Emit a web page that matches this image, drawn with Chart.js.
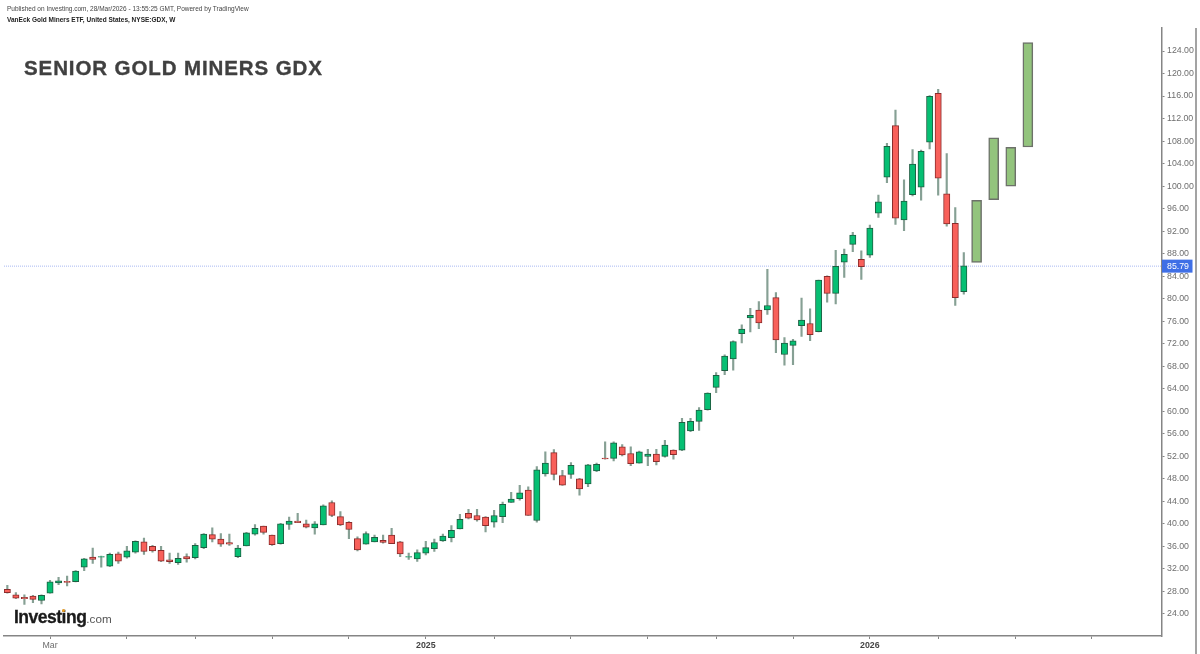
<!DOCTYPE html>
<html><head><meta charset="utf-8">
<script src="https://cdn.jsdelivr.net/npm/chart.js@4"></script>
<style>
html,body{margin:0;padding:0;background:#fff;width:1200px;height:654px;overflow:hidden}
canvas{position:absolute;left:0;top:0}
.t{position:absolute;white-space:nowrap;font-family:"Liberation Sans",Arial,sans-serif}
</style></head><body>
<canvas id="c" width="1200" height="654"></canvas>
<div class="t" style="left:7px;top:4.5px;font-size:6.5px;line-height:8px;color:#444">Published on Investing.com, 28/Mar/2026 - 13:55:25 GMT, Powered by TradingView</div>
<div class="t" style="left:7px;top:15.5px;font-size:6.5px;line-height:8px;font-weight:bold;color:#222">VanEck Gold Miners ETF, United States, NYSE:GDX, W</div>
<div class="t" style="left:24px;top:55px;font-size:20.5px;line-height:26px;font-weight:bold;color:#404040;letter-spacing:.9px;-webkit-text-stroke:.35px #404040">SENIOR GOLD MINERS GDX</div>
<div class="t" style="left:14px;top:606px;font-size:17.5px;line-height:22px;font-weight:bold;color:#1a1a1a;letter-spacing:-.5px;-webkit-text-stroke:.3px #1a1a1a">Investing<span style="font-weight:normal;font-size:11.7px;color:#555;letter-spacing:0;-webkit-text-stroke:0">.com</span></div>
<div style="position:absolute;left:62px;top:609px;width:3px;height:3px;border-radius:2px;background:#f0a020"></div>
<script>
const opens  = [28.4,27.4,26.96,27.2,26.4,27.7,29.5,29.8,29.75,32.3,34.1,34.1,32.5,34.7,34.1,35,36.8,36,35.3,33.6,33.1,34.2,34,35.8,38.1,37.3,36.7,34.2,36.1,38.2,39.6,38,36.5,39.9,40.5,
 40,39.3,39.8,43.8,41.3,40.3,37.4,36.4,36.8,37.1,38,36.8,34.1,33.8,34.8,35.6,37,37.55,39.1,41.9,41.5,41.2,40.3,41.3,43.8,44.5,46,40.6,48.9,52.65,48.6,48.8,48,47.1,49.4,
 51.7,51.65,53.7,52.5,50.8,52,52.4,52,53.1,53.1,56.5,58.2,60.3,64.25,67.2,69.3,73.8,76.6,78,78,80.2,70.1,71.7,75.2,75.6,74.15,84,80.95,86.5,89.65,87,87.75,95.2,101.6,110.75,94,98.5,99.8,107.8,116.5,98.65,93.4,81.25];
const highs  = [29.1,27.8,27.4,27.3,27.4,30,30.5,30.75,31.7,33.9,35.7,34.3,34.8,35,36,37,37.5,36.2,36,34.8,34.8,34.7,36.5,38.3,39.3,38.3,38.2,36.2,38.5,39.9,39.6,38,40.1,41.2,41.9,
 40.7,40.4,43.4,44.1,42.2,40.4,37.7,38.6,38,38,39.2,36.9,34.8,35.4,36.9,37.3,38.2,39.7,41.7,42.6,42.6,41.3,42.4,43.9,45.6,46.85,46.6,50.2,52.8,53.2,49.5,50.9,48.1,50.6,50.8,
 54.6,54.6,54.1,53.7,52.95,53.25,53.25,54.85,53.15,58.75,58.75,60.65,63.3,66.9,70.05,72.5,75.35,78.3,79.5,85.2,81.1,73.1,72.8,80.1,78.2,83.3,84.05,88.6,88.8,91.8,88.5,93.1,98.4,107.6,113.5,101.1,106.5,106.4,116.1,117.2,105.8,96.2,88.2];
const lows   = [27.7,26.7,25.7,26,25.8,27.7,29.2,29,29.7,31.7,33,32.3,32.4,33,33.9,34.8,34.6,35,33.3,33,32.8,33.2,33.8,35.6,36.8,36,36.2,34,36.1,38,38.2,36.2,36.4,39,40.2,
 39.3,38.2,39.8,41.3,39.7,37.4,35.2,36.4,36.8,36.6,36.5,34.2,33.7,33.35,34.5,35.1,36.9,36.8,39.1,40.9,40.5,38.6,39.4,40.2,43.8,44.2,41.5,40.3,48.5,47.8,46.85,48.1,45.1,46.6,49.3,
 51.5,51.2,52.1,50.35,50.8,50.35,50.5,51.85,51.5,53,56.4,56.6,60.2,63.3,66.5,67.3,72.15,74.1,74.7,77.2,70.4,68.2,68.3,73.3,72.55,74.1,79.4,79.1,83.8,88.35,83.45,87.35,94.45,100.6,93.2,92.1,98.25,97.5,106.6,98.4,92.9,78.8,80.8];
const closes = [27.8,26.8,26.7,26.6,27.3,29.7,29.9,29.6,31.6,33.8,33.7,34.2,34.6,33.4,35.2,36.9,35.1,35.2,33.4,33.3,33.9,33.8,36.2,38.2,37.3,36.4,36.4,35.7,38.4,39.2,38.5,36.3,40,40.5,40.2,
 39.4,40,43.2,41.5,39.8,39,35.4,38.3,37.6,36.7,36.5,34.65,34.2,34.9,35.8,36.7,37.85,38.85,40.8,41,40.7,39.7,41.5,43.5,44.4,45.5,41.5,49.6,50.8,48.8,46.9,50.4,46.2,50.5,50.6,
 51.55,54.4,52.25,50.7,52.8,52.4,51.05,54,52.3,58.05,58.2,60.2,63.25,66.4,69.8,72.4,74.6,77.05,75.7,78.8,72.7,72.1,72.5,76.2,73.6,83.3,80.95,85.75,87.9,91.3,85.7,92.55,97.2,107.05,94.3,97.35,103.9,106.2,115.95,101.4,93.3,80.2,85.85];
const forecastSlots = [113.5,115.5,117.5,119.5];
const forecastLow   = [86.45,97.6,100,106.95];
const forecastHigh  = [97.5,108.6,106.9,125.5];
const lastPrice = 85.79;
const priceTicks = [24,28,32,36,40,44,48,52,56,60,64,68,72,76,80,84,88,92,96,100,104,108,112,116,120,124];
const timeTickSlots = [5,14,22,31,40,49,57,66,75,83,92,101,109,118,127];
const timeTickLabels = {5:'Mar',49:'2025',101:'2026'};

const UP='#06bf73', UPB='#1d5f42', DN='#f8605a', DNB='#8b2c2c', WICK='#86a094', AX='#858585';
const idx = opens.map((_,i)=>i);
const isUp = i => closes[i] >= opens[i];

const lastPriceTag = {
  id:'lastPriceTag',
  afterDraw(ch){
    const c=ch.ctx, y=ch.scales.y, py=y.getPixelForValue(lastPrice);
    c.save();
    c.fillStyle='#3f6fe6';
    c.fillRect(y.left+0.5,py-6.5,30.5,13);
    c.fillStyle='#fff';
    c.font='8.8px "Liberation Sans", Arial, sans-serif';
    c.textAlign='left'; c.textBaseline='middle';
    c.fillText(lastPrice.toFixed(2), y.left+5.5, py+0.5);
    c.strokeStyle=AX; c.lineWidth=1.5;
    c.beginPath(); c.moveTo(y.right,ch.chartArea.top); c.lineTo(y.right,ch.height); c.stroke();
    c.restore();
  }
};

new Chart(document.getElementById('c'),{
  data:{datasets:[
    {type:'bar',grouped:false,order:1,barThickness:10,borderSkipped:false,borderWidth:1.5,
     backgroundColor:'#93c47d',borderColor:'#6d716a',
     data:forecastSlots.map((x,i)=>({x,y:[forecastLow[i],forecastHigh[i]]}))},
    {type:'bar',grouped:false,order:2,barThickness:6.3,borderSkipped:false,borderWidth:1,
     backgroundColor:idx.map(i=>isUp(i)?UP:DN),borderColor:idx.map(i=>isUp(i)?UPB:DNB),
     data:idx.map(i=>({x:i,y:[opens[i],closes[i]]}))},
    {type:'bar',grouped:false,order:3,barThickness:1.5,borderWidth:0,backgroundColor:WICK,
     data:idx.map(i=>({x:i,y:[lows[i],highs[i]]}))},
    {type:'line',order:4,borderColor:'#a9b9f2',borderWidth:1,borderDash:[1,1],pointRadius:0,
     data:[{x:-0.39,y:lastPrice},{x:135.15,y:lastPrice}]}
  ]},
  options:{
    responsive:false,animation:false,devicePixelRatio:1,
    layout:{padding:{left:4,right:4,top:28,bottom:0}},
    plugins:{legend:{display:false},tooltip:{enabled:false},title:{display:false}},
    scales:{
      x:{type:'linear',min:-0.39,max:135.15,offset:false,
        afterBuildTicks(s){s.ticks=timeTickSlots.map(v=>({value:v}));},
        afterFit(s){s.height=18;},
        grid:{offset:false,drawOnChartArea:false,drawTicks:true,tickLength:3,color:AX},
        border:{color:AX,width:1.5},
        ticks:{autoSkip:false,maxRotation:0,padding:1,
          callback:v=>timeTickLabels[v]||'',
          color:c=>c.tick&&c.tick.value!==5?'#454545':'#6e6e6e',
          font:c=>({family:'"Liberation Sans", Arial, sans-serif',size:8.8,weight:(c.tick&&c.tick.value!==5)?'bold':'normal'})}},
      y:{type:'linear',position:'right',min:20.09,max:128.09,
        afterBuildTicks(s){s.ticks=priceTicks.map(v=>({value:v}));},
        afterFit(s){s.width=34.5;},
        grid:{drawOnChartArea:false,drawTicks:true,tickLength:3,color:AX},
        border:{color:AX,width:1.5},
        ticks:{padding:2.5,color:'#6e6e6e',callback:v=>v.toFixed(2),autoSkip:false,
          font:{family:'"Liberation Sans", Arial, sans-serif',size:8.8}}}
    }
  },
  plugins:[lastPriceTag]
});
</script>
</body></html>
